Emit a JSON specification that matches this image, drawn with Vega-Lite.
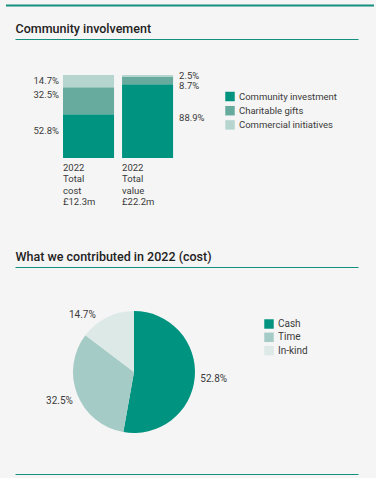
{
  "$schema": "https://vega.github.io/schema/vega-lite/v6.json",
  "background": "#f5f5f5",
  "padding": {"left": 4, "top": 4, "right": 4, "bottom": 4},
  "config": {
    "font": "Roboto",
    "view": {"stroke": null},
    "text": {"font": "Roboto", "fontSize": 9.5, "color": "#3a3a3a"},
    "axis": {"labelFont": "Roboto", "titleFont": "Roboto", "grid": false},
    "legend": {"labelFont": "Roboto", "labelFontSize": 9.5, "labelColor": "#3a3a3a"}
  },
  "datasets": {
    "bars": [
      {"bar": "cost", "cat": "Community investment", "value": 52.8, "order": 1},
      {"bar": "cost", "cat": "Charitable gifts", "value": 32.5, "order": 2},
      {"bar": "cost", "cat": "Commercial initiatives", "value": 14.7, "order": 3},
      {"bar": "value", "cat": "Community investment", "value": 88.9, "order": 1},
      {"bar": "value", "cat": "Charitable gifts", "value": 8.7, "order": 2},
      {"bar": "value", "cat": "Commercial initiatives", "value": 2.5, "order": 3}
    ],
    "barlabels": [
      {"bar": "cost", "text": "2022|Total|cost|£12.3m"},
      {"bar": "value", "text": "2022|Total|value|£22.2m"}
    ],
    "pie": [
      {"cat": "Cash", "value": 52.8, "order": 1},
      {"cat": "Time", "value": 32.5, "order": 2},
      {"cat": "In-kind", "value": 14.7, "order": 3}
    ],
    "line": [{"s": 0, "e": 1}]
  },
  "spacing": 15,
  "resolve": {"scale": {"color": "independent"}},
  "vconcat": [
    {
      "width": 368,
      "height": 1,
      "data": {"name": "line"},
      "mark": {"type": "rule", "color": "#15907f", "strokeWidth": 2.2},
      "encoding": {
        "x": {"field": "s", "type": "quantitative", "scale": {"domain": [0, 1], "nice": false}, "axis": null},
        "x2": {"field": "e"}
      }
    },
    {
      "width": 368,
      "height": 196,
      "layer": [
        {
          "data": {"name": "bars"},
          "mark": {"type": "bar"},
          "encoding": {
            "x": {
              "field": "bar", "type": "nominal", "sort": ["cost", "value"],
              "scale": {"domain": ["cost", "value", "_a", "_b", "_c"], "range": [9, 352], "paddingInner": 0.1356, "paddingOuter": 0.4728, "align": 0.86},
              "axis": {
                "orient": "top", "title": "Community involvement", "titleAnchor": "start",
                "titleFontSize": 12.5, "titleFontWeight": 500, "titleColor": "#222222", "titlePadding": 4,
                "labels": false, "ticks": false, "domainColor": "#15907f", "domainWidth": 1.2
              }
            },
            "y": {"field": "value", "type": "quantitative", "stack": "zero", "scale": {"domain": [-92.8, 143.4], "nice": false, "zero": false}, "axis": null},
            "color": {
              "field": "cat", "type": "nominal",
              "scale": {"domain": ["Community investment", "Charitable gifts", "Commercial initiatives"], "range": ["#009480", "#66ab9e", "#b7d5cf"]},
              "legend": {
                "orient": "none", "legendX": 219, "legendY": 52.5, "title": null, "padding": 0,
                "symbolType": "square", "symbolSize": 90, "symbolStrokeWidth": 0,
                "labelFontSize": 9.5, "labelColor": "#3a3a3a", "rowPadding": 4.2, "labelOffset": 4
              }
            },
            "order": {"field": "order", "type": "quantitative"}
          }
        },
        {
          "data": {"name": "bars"},
          "transform": [
            {"stack": "value", "groupby": ["bar"], "sort": [{"field": "order", "order": "ascending"}], "as": ["v0", "v1"]},
            {"calculate": "(datum.v0+datum.v1)/2", "as": "mid"},
            {"calculate": "format(datum.value,'.1f')+'%'", "as": "label"},
            {"filter": "datum.bar==='cost'"}
          ],
          "mark": {"type": "text", "align": "right", "baseline": "middle", "dx": -4, "dy": {"expr": "datum.order == 3 ? 0 : -5.5"}},
          "encoding": {
            "x": {"field": "bar", "type": "nominal", "sort": ["cost", "value"], "bandPosition": 0},
            "y": {"field": "mid", "type": "quantitative"},
            "text": {"field": "label"}
          }
        },
        {
          "data": {"name": "bars"},
          "transform": [
            {"stack": "value", "groupby": ["bar"], "sort": [{"field": "order", "order": "ascending"}], "as": ["v0", "v1"]},
            {"calculate": "(datum.v0+datum.v1)/2", "as": "mid"},
            {"calculate": "format(datum.value,'.1f')+'%'", "as": "label"},
            {"filter": "datum.bar==='value'"}
          ],
          "mark": {"type": "text", "align": "left", "baseline": "middle", "dx": 6, "dy": {"expr": "datum.order == 3 ? 0 : datum.order == 2 ? 5.5 : -3"}},
          "encoding": {
            "x": {"field": "bar", "type": "nominal", "sort": ["cost", "value"], "bandPosition": 1},
            "y": {"field": "mid", "type": "quantitative"},
            "text": {"field": "label"}
          }
        },
        {
          "data": {"name": "barlabels"},
          "mark": {"type": "text", "align": "left", "baseline": "alphabetic", "dy": 13, "lineBreak": "|", "lineHeight": 11.3},
          "encoding": {
            "x": {"field": "bar", "type": "nominal", "sort": ["cost", "value"], "bandPosition": 0},
            "y": {"datum": 0, "type": "quantitative"},
            "text": {"field": "text"}
          }
        }
      ]
    },
    {
      "width": 368,
      "height": 207,
      "data": {"name": "pie"},
      "resolve": {"scale": {"x": "independent"}, "axis": {"x": "independent"}},
      "layer": [
        {
          "mark": {"type": "arc", "outerRadius": 61},
          "encoding": {
            "theta": {"field": "value", "type": "quantitative", "stack": true},
            "order": {"field": "order", "type": "quantitative"},
            "color": {
              "field": "cat", "type": "nominal",
              "scale": {"domain": ["Cash", "Time", "In-kind"], "range": ["#009480", "#a4cbc5", "#dde9e6"]},
              "legend": {
                "orient": "none", "legendX": 258, "legendY": 52, "title": null, "padding": 0,
                "symbolType": "square", "symbolSize": 90, "symbolStrokeWidth": 0,
                "labelFontSize": 10, "labelColor": "#3a3a3a", "rowPadding": 3.3, "labelOffset": 4
              }
            },
            "x": {
              "datum": 119, "type": "quantitative", "scale": {"domain": [0, 343], "range": [9, 352], "nice": false},
              "axis": {
                "orient": "top", "title": "What we contributed in 2022 (cost)", "titleAnchor": "start",
                "titleFontSize": 12.5, "titleFontWeight": 500, "titleColor": "#222222", "titlePadding": 4,
                "labels": false, "ticks": false, "domainColor": "#15907f", "domainWidth": 1.2
              }
            },
            "y": {"datum": 105, "type": "quantitative", "scale": {"domain": [0, 207], "nice": false, "reverse": true}, "axis": null}
          }
        },
        {
          "transform": [{"calculate": "format(datum.value,'.1f')+'%'", "as": "label"}],
          "mark": {"type": "text", "radius": 80, "fontSize": 10, "dx": {"expr": "datum.order == 3 ? -16 : 0"}, "dy": {"expr": "datum.order == 3 ? 15 : 0"}},
          "encoding": {
            "theta": {"field": "value", "type": "quantitative", "stack": true},
            "order": {"field": "order", "type": "quantitative"},
            "text": {"field": "label"},
            "x": {
              "datum": 119, "type": "quantitative", "scale": {"domain": [0, 343], "range": [9, 352], "nice": false},
              "axis": {"orient": "bottom", "title": null, "labels": false, "ticks": false, "domainColor": "#15907f", "domainWidth": 1.2}
            },
            "y": {"datum": 105, "type": "quantitative", "scale": {"domain": [0, 207], "nice": false, "reverse": true}, "axis": null}
          }
        }
      ]
    }
  ]
}
